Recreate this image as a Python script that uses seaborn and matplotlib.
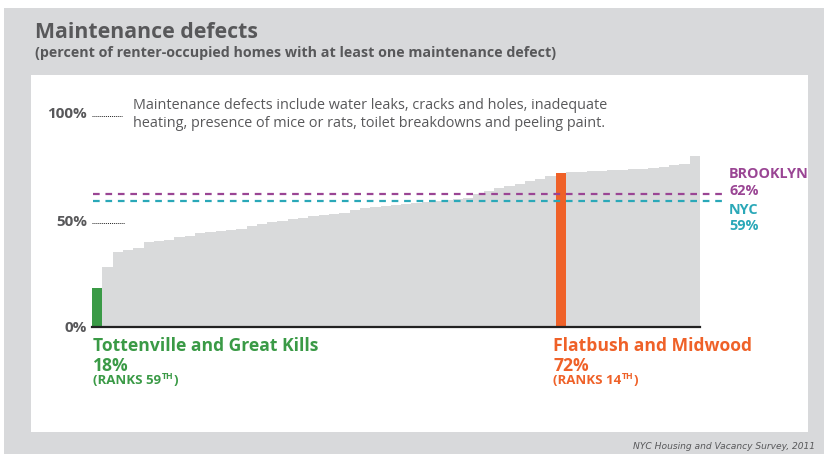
import pandas as pd
import seaborn as sns
import matplotlib.pyplot as plt
from matplotlib.patches import Rectangle

# share of renter-occupied homes with at least one maintenance defect,
# community districts sorted from lowest to highest
rates = [18, 28, 35, 36, 37, 39.5, 40, 40.5, 42, 42.5,
         44, 44.5, 45, 45.5, 46, 47, 48, 49, 49.5, 50.5,
         51, 52, 52.5, 53, 53.5, 54.5, 55.5, 56, 56.5, 57,
         57.5, 58, 58.5, 59, 59.5, 60, 60.5, 62, 63.5, 65,
         66, 67, 68, 69, 70.5, 72, 72.5, 72.5, 73, 73,
         73.5, 73.5, 74, 74, 74.5, 75, 75.5, 76, 80]
districts = [f"CD{i + 1:02d}" for i in range(len(rates))]
low_name, low_rate, low_rank = "Tottenville and Great Kills", 18, 59
high_name, high_rate, high_rank = "Flatbush and Midwood", 72, 14
brooklyn_rate = 62
nyc_rate = 59

GRAY_BAR = "#d9dadb"
GREEN = "#3a9a46"
ORANGE = "#ef6128"
PURPLE = "#9a4594"
TEAL = "#2aa8b8"
TEXT = "#58585a"
PANEL = "#d8d9db"

W, H = 824, 454

sns.set_style("white")
plt.rcParams['font.family'] = ['Open Sans', 'DejaVu Sans']

df = pd.DataFrame({'district': districts, 'rate': rates})
palette = {d: GRAY_BAR for d in districts}
palette[districts[rates.index(low_rate)]] = GREEN
palette[districts[len(rates) - high_rank]] = ORANGE


def px(x, y):
    return x / W, 1 - y / H


fig = plt.figure(figsize=(W / 100, H / 100), dpi=100)
fig.patch.set_facecolor('white')
fig.add_artist(Rectangle((4 / W, 0), 1, (H - 8) / H, transform=fig.transFigure,
                         facecolor=PANEL, edgecolor='none', zorder=-2))
fig.add_artist(Rectangle((31 / W, (H - 432) / H), (808 - 31) / W, (432 - 75) / H,
                         transform=fig.transFigure, facecolor='white',
                         edgecolor='none', zorder=-1))

ax = fig.add_axes([92 / W, (H - 327) / H, 608 / W, 214 / H])
ax.set_facecolor('none')
sns.barplot(data=df, x='district', y='rate', hue='district', palette=palette,
            width=1, saturation=1, linewidth=0, legend=False, ax=ax)
ax.set_xlim(-0.5, len(rates) - 0.5)
ax.set_ylim(0, 100)
ax.set_xticks([])
ax.set_xlabel('')
ax.set_ylabel('')
ax.set_yticks([0, 50, 100], labels=["0%", "50%", "100%"])
ax.tick_params(axis='y', length=0, pad=3.6, labelsize=11, labelcolor=TEXT)
for lbl in ax.get_yticklabels():
    lbl.set_fontweight('bold')
for s in ['top', 'right', 'left']:
    ax.spines[s].set_visible(False)
ax.spines['bottom'].set_color('#222222')
ax.spines['bottom'].set_linewidth(1.6)
ax.spines['bottom'].set_zorder(4)

# little dotted leaders after the 100% and 50% labels
for yv, x_end in [(100, 0.049), (50, 0.054)]:
    ax.plot([0, x_end], [yv - 1.2, yv - 1.2], transform=ax.get_yaxis_transform(),
            ls=(0, (1, 1)), color='#222222', lw=0.7, clip_on=False)

# reference lines
ax.axhline(brooklyn_rate, xmin=0.002, xmax=1.041, color=PURPLE, lw=1.6,
           ls=(0, (3, 2.6)), clip_on=False, zorder=5)
ax.axhline(nyc_rate, xmin=0.002, xmax=1.041, color=TEAL, lw=1.6,
           ls=(0, (3, 2.6)), clip_on=False, zorder=5)

fig.text(*px(729, 178), "BROOKLYN", color=PURPLE, fontsize=10.4, fontweight='bold', va='baseline')
fig.text(*px(729, 195), f"{brooklyn_rate}%", color=PURPLE, fontsize=10.4, fontweight='bold', va='baseline')
fig.text(*px(729, 214), "NYC", color=TEAL, fontsize=10.4, fontweight='bold', va='baseline')
fig.text(*px(729, 230), f"{nyc_rate}%", color=TEAL, fontsize=10.4, fontweight='bold', va='baseline')

# titles
fig.text(*px(35, 38), "Maintenance defects", color=TEXT, fontsize=15.3, fontweight='bold', va='baseline')
fig.text(*px(35, 57), "(percent of renter-occupied homes with at least one maintenance defect)",
         color=TEXT, fontsize=10.3, fontweight='bold', va='baseline')

fig.text(*px(133, 127), "Maintenance defects include water leaks, cracks and holes, inadequate\n"
         "heating, presence of mice or rats, toilet breakdowns and peeling paint.",
         color=TEXT, fontsize=10.4, va='baseline', linespacing=1.3)


def callout(x, name, rate, rank, color):
    fig.text(*px(x, 351), name, color=color, fontsize=12.6, fontweight='bold', va='baseline')
    fig.text(*px(x, 371), f"{rate}%", color=color, fontsize=12.6, fontweight='bold', va='baseline')
    t1 = fig.text(*px(x, 384), f"(RANKS {rank}", color=color, fontsize=9.5,
                  fontweight='bold', va='baseline')
    ann = ax.annotate("TH", xy=(1, 0.45), xycoords=t1, xytext=(0.4, 0),
                      textcoords='offset points', color=color, fontsize=6.3,
                      fontweight='bold', va='bottom', ha='left', annotation_clip=False)
    ax.annotate(")", xy=(1, 0), xycoords=(ann, t1), xytext=(0.3, 0),
                textcoords='offset points', color=color, fontsize=9.5,
                fontweight='bold', va='bottom', ha='left', annotation_clip=False)


callout(93, low_name, low_rate, low_rank, GREEN)
callout(553, high_name, high_rate, high_rank, ORANGE)

fig.text(*px(815, 449), "NYC Housing and Vacancy Survey, 2011", color=TEXT,
         fontsize=6.6, style='italic', ha='right', va='baseline',
         family=['Liberation Sans Narrow', 'DejaVu Sans'])

fig.savefig('out.png', dpi=100)
